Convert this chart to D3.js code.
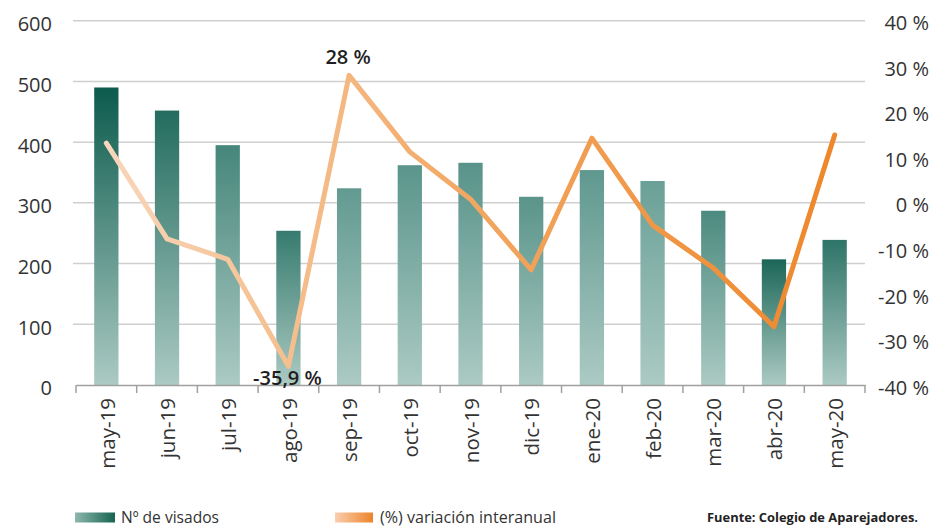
<!DOCTYPE html>
<html>
<head>
<meta charset="utf-8">
<script src="https://cdn.jsdelivr.net/npm/d3@7"></script>
<style>
  html, body { margin: 0; padding: 0; background: #fff; }
  svg { display: block; font-family: "Open Sans", "Noto Sans", sans-serif; }
</style>
</head>
<body>
<svg id="chart" width="932" height="527"></svg>
<script>
// Monthly building permits (visados) and year-on-year change
const months = ["may-19", "jun-19", "jul-19", "ago-19", "sep-19", "oct-19", "nov-19",
                "dic-19", "ene-20", "feb-20", "mar-20", "abr-20", "may-20"];
const visados = [490, 452, 395, 254, 324, 362, 366, 310, 354, 336, 287, 207, 239];
const variacion = [13.1, -7.9, -12.4, -35.9, 28, 11.2, 0.8, -14.7, 14.2, -4.9, -14.3, -27.2, 14.9];
const leftTicks = [0, 100, 200, 300, 400, 500, 600];
const rightTicks = [-40, -30, -20, -10, 0, 10, 20, 30, 40];
const labelled = { "ago-19": "-35,9 %", "sep-19": "28 %" };
const legendItems = ["Nº de visados", "(%) variación interanual"];
const sourceText = "Fuente: Colegio de Aparejadores.";

const svg = d3.select("#chart");
const plot = { left: 76, right: 865, top: 20.7, bottom: 385 };

const x = d3.scaleBand().domain(months).range([plot.left, plot.right]).padding(0);
const yL = d3.scaleLinear().domain([0, 600]).range([plot.bottom, plot.top]);
const yR = d3.scaleLinear().domain([-40, 40]).range([plot.bottom, plot.top]);

const defs = svg.append("defs");

// Bar shading: bars farther from the average run darker at the top
const mean = d3.mean(visados);
const maxDev = d3.max(visados, v => Math.abs(v - mean));
const topShade = d3.scaleLinear().domain([0, maxDev]).range(["#6aa097", "#0c5b4d"]);

visados.forEach((v, i) => {
  const g = defs.append("linearGradient")
    .attr("id", "bar" + i).attr("x1", 0).attr("y1", 0).attr("x2", 0).attr("y2", 1);
  g.append("stop").attr("offset", "0%").attr("stop-color", topShade(Math.abs(v - mean)));
  g.append("stop").attr("offset", "100%").attr("stop-color", "#abcac3");
});

// Line colour fades from pale peach to orange along the months
const lg = defs.append("linearGradient").attr("id", "lineGrad")
  .attr("gradientUnits", "userSpaceOnUse")
  .attr("x1", x(months[0]) + x.bandwidth() / 2).attr("y1", 0)
  .attr("x2", x(months[months.length - 1]) + x.bandwidth() / 2).attr("y2", 0);
lg.append("stop").attr("offset", "0%").attr("stop-color", "#f8d6bb");
lg.append("stop").attr("offset", "50%").attr("stop-color", "#f2a762");
lg.append("stop").attr("offset", "100%").attr("stop-color", "#ee872b");

const legGreen = defs.append("linearGradient").attr("id", "legGreen");
legGreen.append("stop").attr("offset", "0%").attr("stop-color", "#8db7ad");
legGreen.append("stop").attr("offset", "100%").attr("stop-color", "#15644f");
const legOrange = defs.append("linearGradient").attr("id", "legOrange");
legOrange.append("stop").attr("offset", "0%").attr("stop-color", "#f8cfae");
legOrange.append("stop").attr("offset", "100%").attr("stop-color", "#ee8328");

// Gridlines
svg.append("g").selectAll("line").data(leftTicks.filter(t => t > 0)).join("line")
  .attr("x1", 73).attr("x2", plot.right)
  .attr("y1", d => yL(d)).attr("y2", d => yL(d))
  .attr("stroke", "#cfcfcf").attr("stroke-width", 1.5);

// Left axis labels
svg.append("g").selectAll("text").data(leftTicks).join("text")
  .attr("x", 52).attr("y", d => yL(d)).attr("dy", "0.52em")
  .attr("text-anchor", "end").attr("font-size", 20).attr("fill", "#333")
  .text(d => d);

// Right axis labels
svg.append("g").selectAll("text").data(rightTicks).join("text")
  .attr("x", 929).attr("y", d => yR(d)).attr("dy", "0.48em")
  .attr("text-anchor", "end").attr("font-size", 20).attr("fill", "#333")
  .text(d => d + " %");

// Bars
const bw = x.bandwidth() * 0.4;
svg.append("g").selectAll("rect").data(visados).join("rect")
  .attr("x", (d, i) => x(months[i]) + (x.bandwidth() - bw) / 2)
  .attr("y", d => yL(d))
  .attr("width", bw)
  .attr("height", d => yL(0) - yL(d))
  .attr("fill", (d, i) => "url(#bar" + i + ")");

// Bottom axis
const xAxis = svg.append("g").attr("transform", `translate(0,${plot.bottom})`)
  .call(d3.axisBottom(x).tickSize(0).tickFormat(""));
xAxis.select(".domain").attr("stroke", "#a0a0a0").attr("stroke-width", 1.5);
const boundaries = months.map(m => x(m)).concat([plot.right]);
svg.append("g").selectAll("line").data(boundaries).join("line")
  .attr("x1", d => d).attr("x2", d => d)
  .attr("y1", plot.bottom).attr("y2", plot.bottom + 8)
  .attr("stroke", "#a0a0a0").attr("stroke-width", 1.5);

// Month labels
svg.append("g").selectAll("text").data(months).join("text")
  .attr("transform", d => `translate(${x(d) + x.bandwidth() / 2 + 1},398) rotate(-90)`)
  .attr("text-anchor", "end").attr("dy", "0.35em")
  .attr("font-size", 20.5).attr("fill", "#333")
  .text(d => d);

// Year-on-year line
const line = d3.line()
  .x((d, i) => x(months[i]) + x.bandwidth() / 2)
  .y(d => yR(d));
svg.append("path").datum(variacion)
  .attr("d", line)
  .attr("fill", "none")
  .attr("stroke", "url(#lineGrad)")
  .attr("stroke-width", 5)
  .attr("stroke-linejoin", "round")
  .attr("stroke-linecap", "round");

// Value labels on the extremes
months.forEach((m, i) => {
  if (!labelled[m]) return;
  const v = variacion[i];
  svg.append("text")
    .attr("x", x(m) + x.bandwidth() / 2 - 1)
    .attr("y", v > 0 ? yR(v) - 11 : yR(v) + 19)
    .attr("text-anchor", "middle")
    .attr("font-size", 20).attr("font-weight", 600).attr("fill", "#1e1e1e")
    .text(labelled[m]);
});

// Legend
const leg = svg.append("g");
leg.append("rect").attr("x", 75).attr("y", 512.5).attr("width", 40).attr("height", 10)
  .attr("fill", "url(#legGreen)");
leg.append("text").attr("x", 121).attr("y", 523).attr("font-size", 17).attr("fill", "#333")
  .attr("textLength", 98).attr("lengthAdjust", "spacingAndGlyphs")
  .text(legendItems[0]);
leg.append("rect").attr("x", 335).attr("y", 512.5).attr("width", 38).attr("height", 10)
  .attr("fill", "url(#legOrange)");
leg.append("text").attr("x", 380).attr("y", 523).attr("font-size", 17).attr("fill", "#333")
  .attr("textLength", 176).attr("lengthAdjust", "spacingAndGlyphs")
  .text(legendItems[1]);

// Source note
svg.append("text").attr("x", 707).attr("y", 522)
  .attr("font-size", 11.5).attr("font-weight", 700).attr("fill", "#222")
  .attr("textLength", 211).attr("lengthAdjust", "spacingAndGlyphs")
  .text(sourceText);
</script>
</body>
</html>
